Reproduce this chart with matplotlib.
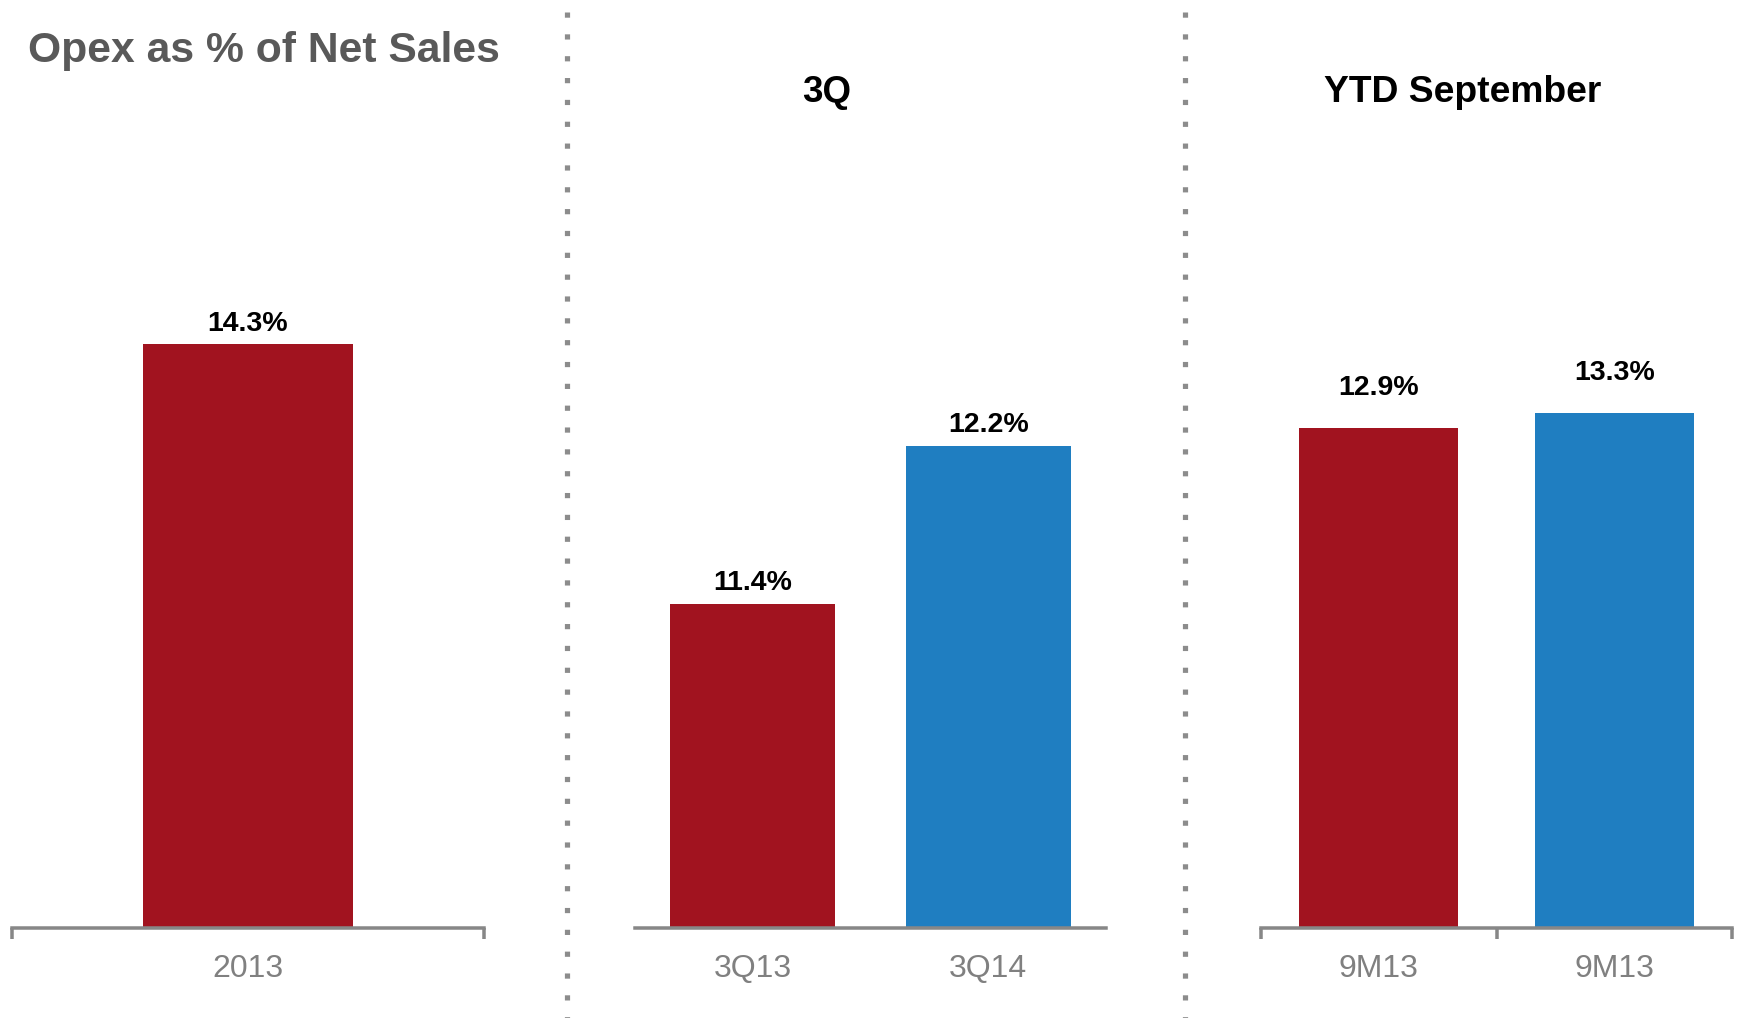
import numpy as np
import matplotlib
matplotlib.use("Agg")
import matplotlib.pyplot as plt
from matplotlib.lines import Line2D

plt.rcParams['font.family'] = ['Liberation Sans', 'DejaVu Sans']

# values (% of net sales)
year_cats = ["2013"]
year_vals = [14.3]
q_cats = ["3Q13", "3Q14"]
q_vals = [11.4, 12.2]
ytd_cats = ["9M13", "9M13"]
ytd_vals = [12.9, 13.3]

RED = "#A1131F"
BLUE = "#1F7EC1"
AXGRAY = "#878787"

W, H = 1741, 1018
fig = plt.figure(figsize=(W/100, H/100), dpi=100)

def px(v):  # pixels -> points
    return v*72/100

# panel: (left px, width px, cats, vals, colors, ylim, bar width, caps, label pad px)
panels = [
    (12, 472, year_cats, year_vals, [RED], (0, 22.72), 0.445, [-0.5, 0.5], 13),
    (635, 471, q_cats, q_vals, [RED, BLUE], (9.76, 14.46), 0.70, [], 14),
    (1261, 471, ytd_cats, ytd_vals, [RED, BLUE], (0, 23.95), 0.675, [-0.5, 0.5, 1.5], 33),
]

bottom = 90
for left, width, cats, vals, cols, ylim, bw, caps, pad in panels:
    ax = fig.add_axes([left/W, bottom/H, width/W, (H-bottom)/H])
    x = np.arange(len(cats))
    ax.bar(x, vals, width=bw, color=cols, zorder=2)
    ax.set_xlim(-0.5, len(cats)-0.5)
    ax.set_ylim(*ylim)
    for s in ['top', 'left', 'right']:
        ax.spines[s].set_visible(False)
    ax.spines['bottom'].set_color(AXGRAY)
    ax.spines['bottom'].set_linewidth(px(3.5))
    ax.spines['bottom'].set_zorder(3)
    ax.set_yticks([])
    ax.set_xticks(x)
    ax.set_xticklabels(cats, fontsize=23, color="#808080")
    ax.tick_params(axis='x', which='major', length=0, pad=19)
    ax.set_xticks(caps, minor=True)
    ax.tick_params(axis='x', which='minor', length=px(11), width=px(3.5),
                   color=AXGRAY, direction='out')
    for xi, v in zip(x, vals):
        ax.annotate(f"{v}%", (xi, v), xytext=(0, px(pad)), textcoords='offset points',
                    ha='center', va='baseline', fontsize=20.5, fontweight='bold',
                    color='black')
    ax.patch.set_alpha(0)

# headings
fig.text(28/W, 1-62/H, "Opex as % of Net Sales", fontsize=30.7, fontweight='bold',
         color="#595959", ha='left', va='baseline')
fig.text(827/W, 1-102/H, "3Q", fontsize=26.5, fontweight='bold', color='black',
         ha='center', va='baseline')
fig.text(1463/W, 1-102/H, "YTD September", fontsize=26.8, fontweight='bold',
         color='black', ha='center', va='baseline')

# dotted separators
for xd in [567, 1185]:
    fig.add_artist(Line2D([xd/W, xd/W], [1-11.5/H, 0], transform=fig.transFigure,
                          color="#8C8C8C", linewidth=px(5.2),
                          linestyle=(0, (1, 3.2)), dash_capstyle='butt'))

fig.savefig("out.png", dpi=100)
